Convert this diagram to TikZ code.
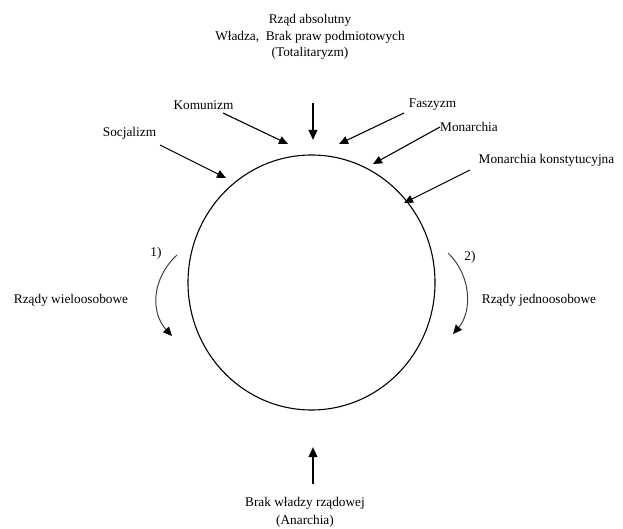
\documentclass[tikz,border=0pt]{standalone}
\usepackage{fontspec}
\setmainfont{Liberation Serif}
\usetikzlibrary{arrows.meta}
\begin{document}
\begin{tikzpicture}[x=1pt,y=-1pt,
  lbl/.style={inner sep=0pt, font=\fontsize{13.3}{16.5}\selectfont, align=center},
  thin arrow/.style={line width=1.1pt, -{Triangle[length=9pt,width=8pt]}},
  thick arrow/.style={line width=2pt, -{Triangle[length=10pt,width=8.5pt]}},
  turn arrow/.style={line width=1pt, draw=black!75, -{Triangle[length=9pt,width=8pt,color=black]}}]
  \useasboundingbox (0,0) rectangle (623,529);

  % central circle
  \draw[line width=1.1pt] (311.5,282.5) ellipse [x radius=123.5, y radius=127.5];

  % labels
  \node[lbl] (top) at (310,37) {Rząd absolutny\\Władza,\ \ Brak praw podmiotowych\\(Totalitaryzm)};
  \node[lbl] (kom) at (203.5,105) {Komunizm};
  \node[lbl] (soc) at (129.5,133) {Socjalizm};
  \node[lbl] (fas) at (432.5,105) {Faszyzm};
  \node[lbl] (mon) at (469,127) {Monarchia};
  \node[lbl] (monk) at (546.5,160) {Monarchia konstytucyjna};
  \node[lbl] (one) at (156,253) {1)};
  \node[lbl] (two) at (470,257) {2)};
  \node[lbl] (wiel) at (71,300) {Rządy wieloosobowe};
  \node[lbl] (jedn) at (539,300) {Rządy jednoosobowe};
  \node[lbl, font=\fontsize{13.3}{18}\selectfont] (bot) at (305,512) {Brak władzy rządowej\\(Anarchia)};

  % arrow end points
  \coordinate (topS) at (313,103);  \coordinate (topE) at (313,140);
  \coordinate (botS) at (313,484);  \coordinate (botE) at (313,447);
  \coordinate (komS) at (223,113);  \coordinate (komE) at (288,144);
  \coordinate (socS) at (160,145);  \coordinate (socE) at (226,178);
  \coordinate (fasS) at (404,113);  \coordinate (fasE) at (339,144);
  \coordinate (monS) at (440,127);  \coordinate (monE) at (373,164);
  \coordinate (monkS) at (470,170); \coordinate (monkE) at (404,203);
  \coordinate (lS) at (177,255);    \coordinate (lE) at (172,336);
  \coordinate (rS) at (448,253);    \coordinate (rE) at (453,334);

  % pressure arrows toward the circle
  \draw[thick arrow] (topS) -- (topE);
  \draw[thick arrow] (botS) -- (botE);
  \draw[thin arrow] (komS) -- (komE);
  \draw[thin arrow] (socS) -- (socE);
  \draw[thin arrow] (fasS) -- (fasE);
  \draw[thin arrow] (monS) -- (monE);
  \draw[thin arrow] (monkS) -- (monkE);

  % direction of change on both sides
  \draw[turn arrow] (lS) .. controls (152,278) and (150,312) .. (lE);
  \draw[turn arrow] (rS) .. controls (472,276) and (472,312) .. (rE);
\end{tikzpicture}
\end{document}
